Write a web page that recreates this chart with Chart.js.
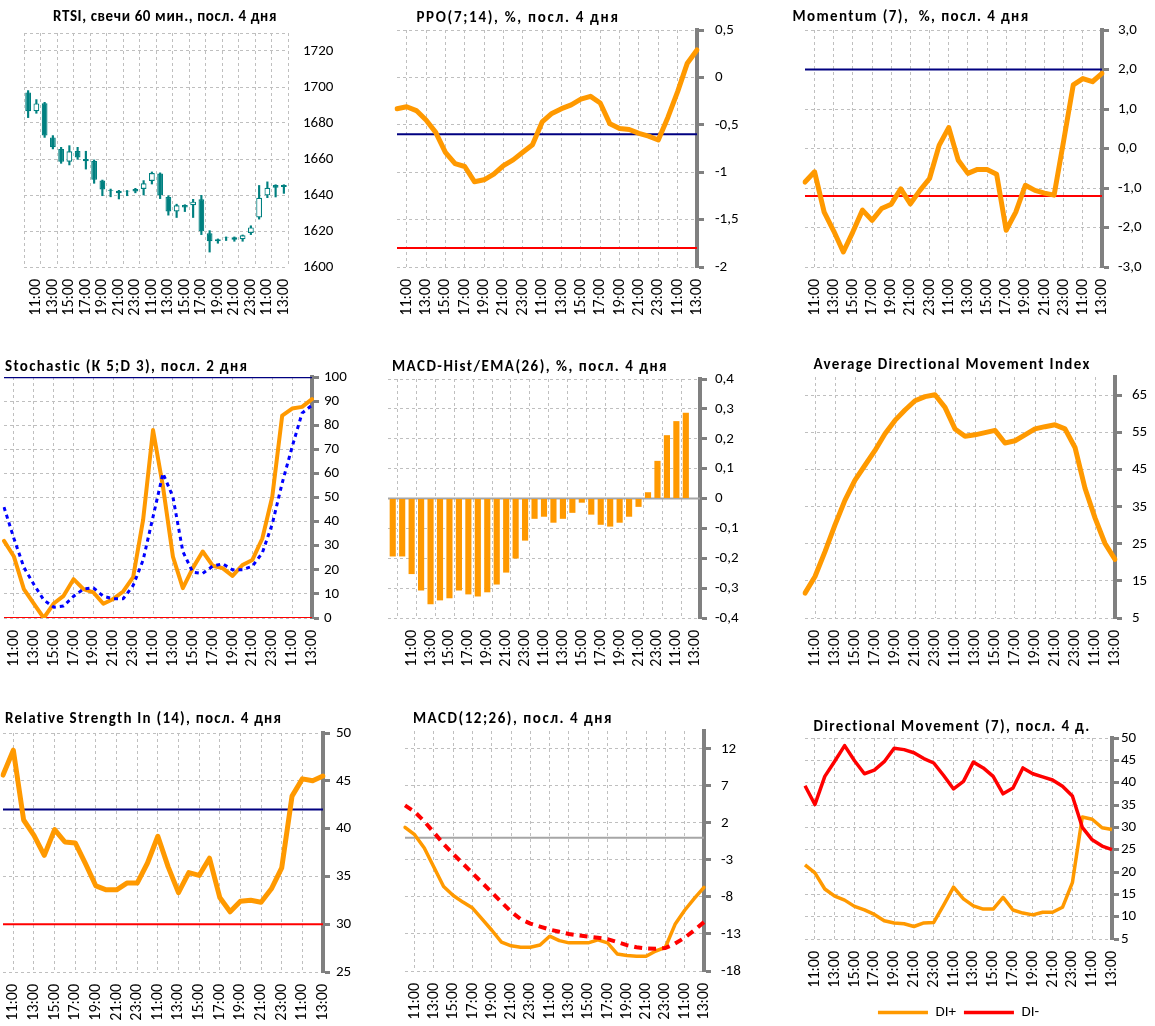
<!DOCTYPE html>
<html lang="ru">
<head>
<meta charset="utf-8">
<title>RTSI indicators</title>
<script src="https://cdn.jsdelivr.net/npm/chart.js@4.4.1/dist/chart.umd.min.js"></script>
<style>
  html, body { margin: 0; padding: 0; background: #ffffff; }
  #wrap { position: relative; width: 1155px; height: 1026px; overflow: hidden; background: #ffffff; }
  #wrap canvas { position: absolute; }
</style>
</head>
<body>
<div id="wrap"></div>
<script>
// ================= DATA =================
const hours = ['10:00','11:00','12:00','13:00','14:00','15:00','16:00','17:00','18:00','19:00','20:00','21:00','22:00','23:00',
               '10:00','11:00','12:00','13:00','14:00','15:00','16:00','17:00','18:00','19:00','20:00','21:00','22:00','23:00',
               '10:00','11:00','12:00','13:00'];
const histHours = ['23:00','10:00','11:00','12:00','13:00','14:00','15:00','16:00','17:00','18:00','19:00','20:00','21:00','22:00','23:00',
                   '10:00','11:00','12:00','13:00','14:00','15:00','16:00','17:00','18:00','19:00','20:00','21:00','22:00','23:00',
                   '10:00','11:00','12:00','13:00'];

// RTSI hourly candles
const rtsiOpen  = [1697,1686.5,1691,1672,1665.6,1658.5,1664.4,1660,1658.9,1648,1642.2,1642.4,1642,1643.3,1643.3,1647.8,
                   1651.9,1638.9,1630.8,1634.5,1634.3,1637.6,1618.7,1614.3,1616.2,1616.5,1615.4,1618.9,1627.5,1639.8,1645.5,1644.4];
const rtsiHigh  = [1698,1693,1691.5,1673,1666.5,1667.4,1666.5,1664.3,1659.5,1648.3,1643.3,1642.6,1642.5,1643.7,1648,1652.8,
                   1652.3,1639.6,1634.9,1634.6,1637.6,1639.8,1620.2,1615.6,1616.7,1616.7,1617.8,1622.9,1645.3,1647.3,1645.7,1645.7];
const rtsiLow   = [1683,1685.4,1672,1665.6,1657.6,1656.7,1659.8,1654.4,1646.5,1639.6,1639,1637.8,1639.6,1641.2,1640,1646.1,
                   1638,1628.8,1627.5,1630.8,1627.5,1618,1608.3,1613.2,1614.7,1614.3,1614.3,1618,1626.6,1638.5,1638.9,1640.9];
const rtsiClose = [1686.5,1690.9,1673,1666.5,1658.5,1664.3,1660.9,1658.8,1648.5,1643.1,1642.6,1641,1642.3,1641.9,1646.5,1652.2,
                   1639.8,1630.8,1634.3,1633,1636.3,1619.8,1614.3,1615.4,1616.5,1615.2,1617.6,1622,1638.5,1644,1644,1645.5];

const ppo = [-0.33,-0.31,-0.35,-0.45,-0.58,-0.79,-0.91,-0.94,-1.10,-1.08,-1.02,-0.93,-0.87,-0.79,-0.71,-0.47,
             -0.38,-0.33,-0.29,-0.23,-0.20,-0.27,-0.49,-0.54,-0.55,-0.59,-0.62,-0.66,-0.42,-0.15,0.15,0.29];
const ppoLevels = [-0.6, -1.8];

const momentum = [-0.85,-0.59,-1.61,-2.09,-2.62,-2.11,-1.56,-1.82,-1.52,-1.41,-1.02,-1.40,-1.06,-0.76,0.08,0.53,
                  -0.30,-0.63,-0.53,-0.53,-0.65,-2.07,-1.61,-0.93,-1.06,-1.13,-1.18,0.20,1.61,1.77,1.69,1.90];
const momLevels = [2.0, -1.2];

const stochK = [32,25.5,12,6,0,6,9.2,16.1,12,10.6,5.9,7.9,11,17,40.7,78,54.5,25.5,12.4,20.7,27.6,21.7,20.7,17.5,22,24.1,33,50.3,84,86.9,87.6,90.8];
const stochD = [46,33,21,14,7.5,4.5,5,9,12,12.5,9,8,8,13.5,24,42,60,50.3,27.6,19,18.5,21.5,22.5,20,20,21.5,27,39,56,71,85,88.3];
const stochLevels = [100, 0];

const macdHist = [-0.194,-0.194,-0.253,-0.308,-0.354,-0.341,-0.334,-0.308,-0.321,-0.328,-0.314,-0.288,-0.248,-0.201,-0.141,-0.068,
                  -0.061,-0.081,-0.068,-0.048,-0.014,-0.054,-0.088,-0.094,-0.081,-0.061,-0.028,0.021,0.126,0.212,0.259,0.287];

const adx = [11.7,16.2,22.9,30.1,36.8,42.2,46.2,50.2,54.7,58.3,61.1,63.6,64.7,65.2,61.8,56.0,
             54.0,54.4,55.0,55.6,52.2,52.8,54.4,56.0,56.6,57.1,56.0,51.0,40.0,32.0,25.1,20.8];

const rsi = [45.6,48.2,40.9,39.3,37.2,39.9,38.6,38.5,36.3,34.0,33.6,33.6,34.3,34.3,36.4,39.2,
             36.0,33.3,35.4,35.1,36.9,32.8,31.3,32.4,32.5,32.3,33.7,35.9,43.4,45.2,45.0,45.5];
const rsiLevels = [42, 30];

const macd   = [1.4,0.4,-1.4,-4.0,-6.6,-7.8,-8.7,-9.5,-11.0,-12.5,-14.1,-14.6,-14.8,-14.8,-14.5,-13.3,
                -13.9,-14.2,-14.2,-14.2,-13.8,-14.2,-15.7,-15.9,-16.0,-16.0,-15.3,-14.8,-11.7,-9.8,-8.2,-6.7];
const signal = [4.35,3.5,2.2,0.7,-0.85,-2.2,-3.5,-4.8,-6.1,-7.4,-8.7,-10.0,-11.0,-11.6,-12.0,-12.4,
                -12.7,-13.0,-13.2,-13.35,-13.5,-13.7,-14.1,-14.5,-14.8,-14.95,-15.0,-14.9,-14.3,-13.5,-12.5,-11.4];

const diPlus  = [21.6,19.8,16.2,14.6,13.7,12.3,11.5,10.5,9.1,8.6,8.4,7.8,8.6,8.7,12.6,16.6,
                 14.0,12.4,11.7,11.7,14.3,11.5,10.8,10.4,11.0,11.0,12.1,17.6,32.3,31.8,29.9,29.5];
const diMinus = [39.3,35.1,41.4,44.8,48.3,44.9,42.0,42.8,44.7,47.7,47.4,46.7,45.4,44.4,41.6,38.6,
                 40.3,44.6,43.3,41.4,37.5,38.8,43.3,42.0,41.3,40.6,39.2,37.0,30.0,27.2,25.8,25.0];

// Tick values / labels
const rtsiTicks = [1600,1620,1640,1660,1680,1700,1720,1730];
const rtsiTickLabels = ['1600','1620','1640','1660','1680','1700','1720',''];
const ppoTicks = [-2,-1.5,-1,-0.5,0,0.5];
const ppoTickLabels = ['-2','-1,5','-1','-0,5','0','0,5'];
const momTicks = [-3,-2,-1,0,1,2,3];
const momTickLabels = ['-3,0','-2,0','-1,0','0,0','1,0','2,0','3,0'];
const stochTicks = [0,10,20,30,40,50,60,70,80,90,100];
const stochTickLabels = ['0','10','20','30','40','50','60','70','80','90','100'];
const histTicks = [-0.4,-0.3,-0.2,-0.1,0,0.1,0.2,0.3,0.4];
const histTickLabels = ['-0,4','-0,3','-0,2','-0,1','0','0,1','0,2','0,3','0,4'];
const adxTicks = [5,15,25,35,45,55,65,70];
const adxTickLabels = ['5','15','25','35','45','55','65',''];
const rsiTicks = [25,30,35,40,45,50];
const rsiTickLabels = ['25','30','35','40','45','50'];
const macdTicks = [-18,-13,-8,-3,2,7,12,14.4];
const macdTickLabels = ['-18','-13','-8','-3','2','7','12',''];
const dmTicks = [5,10,15,20,25,30,35,40,45,50];
const dmTickLabels = ['5','10','15','20','25','30','35','40','45','50'];

// ================= STYLE =================
const FONT = 'Carlito, Lato, "Liberation Sans", sans-serif';
const ORANGE = '#FF9900', NAVY = '#000080', RED = '#FF0000', BLUE = '#0000FF', TEAL = '#008080';
const GRID = '#BFBFBF', AXIS = '#808080', NONE = 'rgba(0,0,0,0)';
Chart.defaults.font.family = FONT;
Chart.defaults.font.size = 15;
Chart.defaults.color = '#000';

const panelTitle = {
  id: 'panelTitle',
  afterDraw(chart, args, o) {
    const ctx = chart.ctx;
    ctx.save();
    let size = 15;
    ctx.font = 'bold ' + size + 'px ' + FONT;
    const w0 = ctx.measureText(o.text).width;
    if (o.width) {
      if ('letterSpacing' in ctx) {
        ctx.letterSpacing = Math.max(0, (o.width - w0) / o.text.length).toFixed(2) + 'px';
      } else {
        size = size * o.width / w0;
        ctx.font = 'bold ' + size.toFixed(2) + 'px ' + FONT;
      }
    }
    ctx.fillStyle = '#000';
    ctx.textAlign = o.align;
    ctx.textBaseline = 'middle';
    ctx.fillText(o.text, o.x, o.y);
    ctx.restore();
  }
};
const zeroLine = {
  id: 'zeroLine',
  beforeDatasetsDraw(chart, args, o) {
    const y = chart.scales.y.getPixelForValue(o.value);
    const a = chart.chartArea, ctx = chart.ctx;
    ctx.save();
    ctx.strokeStyle = o.color; ctx.lineWidth = o.width;
    ctx.beginPath(); ctx.moveTo(a.left, y); ctx.lineTo(a.right, y); ctx.stroke();
    ctx.restore();
  }
};

function line(data, color, width, dash, order, cap) {
  return { data, borderColor: color, backgroundColor: color, borderWidth: width, borderDash: dash || [],
           pointRadius: 0, tension: 0, fill: false, borderJoinStyle: 'round',
           borderCapStyle: cap || (dash ? 'butt' : 'round'), order: order || 0 };
}
function level(value, color, width, order) { return line(hours.map(() => value), color, width, null, order, 'butt'); }
const odd = i => i % 2 === 1;

function panelChart(p) {
  const canvas = document.createElement('canvas');
  canvas.width = p.w; canvas.height = p.h;
  canvas.style.left = p.x + 'px'; canvas.style.top = p.y + 'px';
  canvas.style.width = p.w + 'px'; canvas.style.height = p.h + 'px';
  document.getElementById('wrap').appendChild(canvas);
  const areaRight = p.R - p.x, areaBottom = p.B - p.y;
  const noGrid = p.yNoGrid || [];
  const plugins = [panelTitle];
  if (p.zero !== undefined) plugins.push(zeroLine);
  return new Chart(canvas, {
    type: p.type || 'line',
    data: { labels: p.labels, datasets: p.datasets },
    plugins,
    options: {
      responsive: false, animation: false, events: [],
      layout: { padding: { left: p.L - p.x, top: p.T - p.y, right: 0, bottom: 0 } },
      plugins: {
        legend: p.legend || { display: false },
        tooltip: { enabled: false },
        panelTitle: { text: p.title, x: p.tx - p.x, y: p.ty - p.y, align: p.talign || 'center', width: p.tw },
        zeroLine: { value: p.zero, color: '#A6A6A6', width: 2 }
      },
      scales: {
        x: {
          offset: !!p.offset,
          grid: { offset: !!p.offset, drawTicks: false, lineWidth: 1,
                  color: c => (c.index === undefined || p.xGrid(c.index)) ? GRID : NONE },
          border: { display: false, dash: [3, 3] },
          ticks: { autoSkip: false, minRotation: 90, maxRotation: 90, padding: 12, color: '#000',
                   font: { family: FONT, size: 16 },
                   callback: (v, i) => p.xShow(i) ? p.labels[i] : '' },
          afterFit: s => { s.height = p.h - areaBottom - (p.legendH || 0); s.paddingLeft = 0; s.paddingRight = 0; }
        },
        y: {
          position: 'right', min: p.yMin, max: p.yMax,
          afterBuildTicks: ax => { ax.ticks = p.yTicks.map(v => ({ value: v })); },
          grid: { drawTicks: !!p.axis, tickLength: 7, tickWidth: 3, tickBorderDash: [], lineWidth: 1,
                  color: c => (c.tick && noGrid.includes(c.tick.value)) ? NONE : GRID,
                  tickColor: c => (c.tick && noGrid.includes(c.tick.value)) ? NONE : AXIS },
          border: { display: !!p.axis, color: AXIS, width: 4, dash: [3, 3] },
          ticks: { padding: p.yPad, color: '#000', font: { family: FONT, size: 15 },
                   callback: (v, i) => p.yLabels[i] },
          afterFit: s => { s.width = p.w - areaRight; s.paddingTop = 0; s.paddingBottom = 0; }
        }
      }
    }
  });
}

// ===== 1. RTSI candles =====
panelChart({
  x: 0, y: 0, w: 385, h: 340, L: 24, T: 33, R: 288, B: 267, tx: 165, ty: 17, tw: 224,
  title: 'RTSI, свечи 60 мин., посл. 4 дня', type: 'bar', labels: hours, offset: true,
  xShow: odd, xGrid: i => i % 2 === 0,
  yMin: 1600, yMax: 1730, yTicks: rtsiTicks, yLabels: rtsiTickLabels, axis: false, yPad: 15,
  datasets: [
    { label: 'Open-Close', data: rtsiOpen.map((o, i) => [o, rtsiClose[i]]),
      backgroundColor: rtsiOpen.map((o, i) => rtsiClose[i] < o ? TEAL : '#FFFFFF'),
      borderColor: TEAL, borderWidth: 1.2, borderSkipped: false, grouped: false,
      barPercentage: 0.7, categoryPercentage: 1, order: 0 },
    { label: 'High-Low', data: rtsiLow.map((l, i) => [l, rtsiHigh[i]]),
      backgroundColor: TEAL, borderWidth: 0, grouped: false, barThickness: 1.5, order: 1 }
  ]
});

// ===== 2. PPO =====
panelChart({
  x: 385, y: 0, w: 385, h: 340, L: 397, T: 30, R: 697, B: 267, tx: 518, ty: 18, tw: 203,
  title: 'PPO(7;14), %, посл. 4 дня', labels: hours, xShow: odd, xGrid: odd,
  yMin: -2, yMax: 0.5, yTicks: ppoTicks, yLabels: ppoTickLabels, axis: true, yPad: 11,
  datasets: [ line(ppo, ORANGE, 5, null, 0), level(ppoLevels[0], NAVY, 2, 1), level(ppoLevels[1], RED, 2, 1) ]
});

// ===== 3. Momentum =====
panelChart({
  x: 770, y: 0, w: 385, h: 340, L: 805, T: 30, R: 1102, B: 267, tx: 911, ty: 17, tw: 237,
  title: 'Momentum (7),  %, посл. 4 дня', labels: hours, xShow: odd, xGrid: odd,
  yMin: -3, yMax: 3, yTicks: momTicks, yLabels: momTickLabels, axis: true, yPad: 9,
  datasets: [ line(momentum, ORANGE, 5, null, 0), level(momLevels[0], NAVY, 2, 1), level(momLevels[1], RED, 2, 1) ]
});

// ===== 4. Stochastic =====
panelChart({
  x: 0, y: 340, w: 385, h: 350, L: 4, T: 377, R: 312, B: 618, tx: 5, ty: 367, tw: 243, talign: 'left',
  title: 'Stochastic (К 5;D 3), посл. 2 дня', labels: hours, xShow: odd, xGrid: odd,
  yMin: 0, yMax: 100, yTicks: stochTicks, yLabels: stochTickLabels, axis: true, yPad: 5,
  datasets: [ line(stochD, BLUE, 3, [4, 4], 0), line(stochK, ORANGE, 4, null, 1),
              level(stochLevels[0], NAVY, 2.5, 2), level(stochLevels[1], RED, 2, 2) ]
});

// ===== 5. MACD-Hist =====
panelChart({
  x: 385, y: 340, w: 385, h: 350, L: 388, T: 379, R: 700, B: 618, tx: 530, ty: 367, tw: 276,
  title: 'MACD-Hist/EMA(26), %, посл. 4 дня', type: 'bar', labels: histHours, offset: true,
  xShow: i => i > 0 && i % 2 === 0, xGrid: odd,
  yMin: -0.4, yMax: 0.4, yTicks: histTicks, yLabels: histTickLabels, axis: true, yPad: 8, zero: 0,
  datasets: [ { data: macdHist, backgroundColor: ORANGE, borderWidth: 0, barPercentage: 0.65, categoryPercentage: 1 } ]
});

// ===== 6. ADX =====
panelChart({
  x: 770, y: 340, w: 385, h: 350, L: 805, T: 377, R: 1115, B: 618, tx: 952, ty: 365, tw: 277,
  title: 'Average Directional Movement Index', labels: hours, xShow: odd, xGrid: odd,
  yMin: 5, yMax: 70, yTicks: adxTicks, yLabels: adxTickLabels, yNoGrid: [70], axis: true, yPad: 10,
  datasets: [ line(adx, ORANGE, 5, null, 0) ]
});

// ===== 7. RSI =====
panelChart({
  x: 0, y: 690, w: 385, h: 336, L: 3, T: 733, R: 323, B: 972, tx: 5, ty: 719, tw: 277, talign: 'left',
  title: 'Relative Strength In (14), посл. 4 дня', labels: hours, xShow: odd, xGrid: odd,
  yMin: 25, yMax: 50, yTicks: rsiTicks, yLabels: rsiTickLabels, axis: true, yPad: 6,
  datasets: [ line(rsi, ORANGE, 5, null, 0), level(rsiLevels[0], NAVY, 2, 1), level(rsiLevels[1], RED, 2, 1) ]
});

// ===== 8. MACD =====
panelChart({
  x: 385, y: 690, w: 385, h: 336, L: 405, T: 731, R: 704, B: 971, tx: 513, ty: 719, tw: 200,
  title: 'MACD(12;26), посл. 4 дня', labels: hours, xShow: odd, xGrid: odd,
  yMin: -18, yMax: 14.4, yTicks: macdTicks, yLabels: macdTickLabels, yNoGrid: [14.4], axis: true, yPad: 10, zero: 0,
  datasets: [ line(signal, RED, 4, [8, 6], 0), line(macd, ORANGE, 3.5, null, 1) ]
});

// ===== 9. Directional Movement =====
panelChart({
  x: 770, y: 690, w: 385, h: 340, L: 805, T: 738, R: 1112, B: 939, tx: 952, ty: 727, tw: 277, legendH: 33,
  title: 'Directional Movement (7), посл. 4 д.', labels: hours, xShow: odd, xGrid: odd,
  yMin: 5, yMax: 50, yTicks: dmTicks, yLabels: dmTickLabels, axis: true, yPad: 2,
  legend: { display: true, position: 'bottom', align: 'center', fullSize: false,
            labels: { usePointStyle: true, pointStyle: 'line', pointStyleWidth: 50, padding: 8, color: '#000',
                      font: { family: FONT, size: 15 }, sort: (a, b) => a.datasetIndex - b.datasetIndex } },
  datasets: [ Object.assign(line(diPlus, ORANGE, 3.5, null, 1, 'butt'), { label: 'DI+' }),
              Object.assign(line(diMinus, RED, 3.5, null, 0, 'butt'), { label: 'DI-' }) ]
});
</script>
</body>
</html>
